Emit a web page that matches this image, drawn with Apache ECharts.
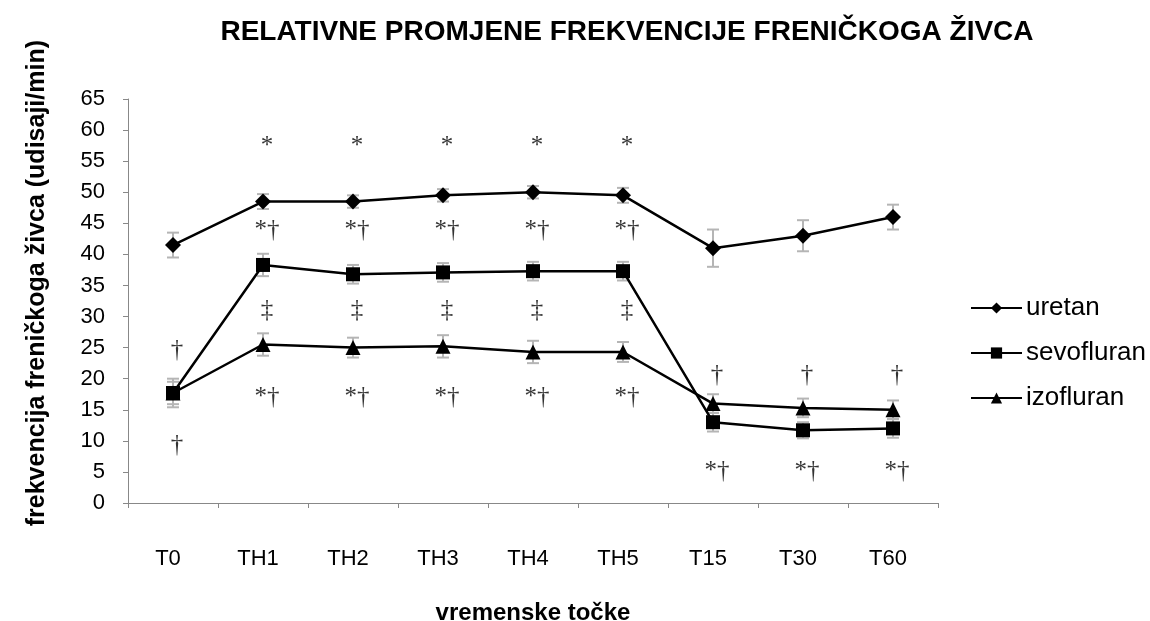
<!DOCTYPE html>
<html>
<head>
<meta charset="utf-8">
<script src="https://cdn.jsdelivr.net/npm/echarts@6/dist/echarts.min.js"></script>
<style>html,body{margin:0;padding:0;background:#fff}#c{width:1150px;height:621px}</style>
</head>
<body>
<div id="c"></div>
<script>
const categories = ['T0','TH1','TH2','TH3','TH4','TH5','T15','T30','T60'];
const uretan     = [41.5, 48.5, 48.5, 49.5, 50.0, 49.5, 41.0, 43.0, 46.0];
const uretanErr  = [2.0, 1.2, 1.0, 1.0, 1.0, 1.2, 3.0, 2.5, 2.0];
const sevofluran = [17.7, 38.3, 36.8, 37.1, 37.3, 37.3, 13.0, 11.7, 12.0];
const sevoErr    = [2.3, 1.8, 1.5, 1.5, 1.5, 1.5, 1.5, 1.3, 1.5];
const izofluran  = [17.7, 25.5, 25.0, 25.2, 24.3, 24.3, 16.0, 15.3, 15.0];
const izoErr     = [1.8, 1.8, 1.6, 1.8, 1.8, 1.6, 1.5, 1.5, 1.5];
const yTicks = {min: 0, max: 65, interval: 5};
// significance marks: category index, value level, text
const annoCats  = [1,2,3,4,5, 1,2,3,4,5, 1,2,3,4,5, 1,2,3,4,5, 0,0, 6,7,8, 6,7,8];
const annoVals  = [57.3,57.3,57.3,57.3,57.3, 43.8,43.8,43.8,43.8,43.8, 31.0,31.0,31.0,31.0,31.0, 17.0,17.0,17.0,17.0,17.0, 24.5,9.3, 20.6,20.6,20.6, 5.1,5.1,5.1];
const annoTexts = ['*','*','*','*','*', '*†','*†','*†','*†','*†', '‡','‡','‡','‡','‡', '*†','*†','*†','*†','*†', '†','†', '†','†','†', '*†','*†','*†'];

const chart = echarts.init(document.getElementById('c'));
function errSeries(vals, errs) {
  return {
    type: 'custom', z: 1, silent: true,
    data: vals.map((v, i) => [i, v - errs[i], v + errs[i]]),
    renderItem: function (params, api) {
      const lo = api.coord([api.value(0), api.value(1)]);
      const hi = api.coord([api.value(0), api.value(2)]);
      const w = 6;
      const st = {stroke: '#b5b5b5', lineWidth: 2};
      return {type: 'group', children: [
        {type: 'line', shape: {x1: lo[0], y1: lo[1], x2: hi[0], y2: hi[1]}, style: st},
        {type: 'line', shape: {x1: lo[0]-w, y1: lo[1], x2: lo[0]+w, y2: lo[1]}, style: st},
        {type: 'line', shape: {x1: hi[0]-w, y1: hi[1], x2: hi[0]+w, y2: hi[1]}, style: st}
      ]};
    }
  };
}
function lineSeries(name, vals, symbol, size) {
  return {
    name: name, type: 'line', data: vals, z: 3,
    symbol: symbol, symbolSize: size, showSymbol: true,
    lineStyle: {color: '#000', width: 2.5},
    itemStyle: {color: '#000'},
    emphasis: {disabled: true}
  };
}
const textFont = 'Liberation Sans, Arial, sans-serif';
chart.setOption({
  animation: false,
  backgroundColor: '#fff',
  title: {
    text: 'RELATIVNE PROMJENE FREKVENCIJE FRENIČKOGA ŽIVCA',
    left: 622, top: 13, textAlign: 'center',
    textStyle: {fontFamily: textFont, fontSize: 28, fontWeight: 'bold', color: '#000'}
  },
  legend: {
    data: ['uretan', 'sevofluran', 'izofluran'],
    orient: 'vertical', left: 965, top: 290,
    itemWidth: 51, itemHeight: 14, itemGap: 19,
    textStyle: {fontFamily: textFont, fontSize: 26, color: '#000', padding: [0, 0, 0, -1]}
  },
  graphic: [{
    type: 'text', left: 25, top: 40, rotation: Math.PI / 2,
    style: {text: 'frekvencija freničkoga živca (udisaji/min)', fontFamily: textFont,
      fontSize: 25, fontWeight: 'bold', fill: '#000'}
  }],
  grid: {left: 128, right: 212, top: 99, bottom: 118, containLabel: false, outerBoundsMode: 'none'},
  xAxis: {
    type: 'category', data: categories, boundaryGap: true,
    name: 'vremenske točke', nameLocation: 'middle', nameGap: 98,
    nameTextStyle: {fontFamily: textFont, fontSize: 24, fontWeight: 'bold', color: '#000'},
    axisLine: {lineStyle: {color: '#888', width: 1}},
    axisTick: {show: true, length: 5, lineStyle: {color: '#888'}},
    axisLabel: {fontFamily: textFont, fontSize: 22, color: '#000', margin: 45, padding: [0, 10, 0, 0]}
  },
  yAxis: {
    type: 'value', min: yTicks.min, max: yTicks.max, interval: yTicks.interval,
    axisLine: {show: true, lineStyle: {color: '#888', width: 1}},
    axisTick: {show: true, length: 5, lineStyle: {color: '#888'}},
    splitLine: {show: false},
    axisLabel: {fontFamily: textFont, fontSize: 22, color: '#000', margin: 23}
  },
  series: [
    errSeries(uretan, uretanErr),
    errSeries(sevofluran, sevoErr),
    errSeries(izofluran, izoErr),
    lineSeries('uretan', uretan, 'diamond', 16),
    lineSeries('sevofluran', sevofluran, 'rect', 14),
    lineSeries('izofluran', izofluran, 'triangle', 15),
    {
      type: 'scatter', symbolSize: 0, z: 4, silent: true,
      data: annoCats.map((c, i) => ({value: [c, annoVals[i]], label: {formatter: annoTexts[i]}})),
      label: {show: true, position: 'inside', offset: [4, 0],
        fontFamily: 'Liberation Serif, DejaVu Serif, serif', fontSize: 25, color: '#000'}
    }
  ]
});
</script>
</body>
</html>
